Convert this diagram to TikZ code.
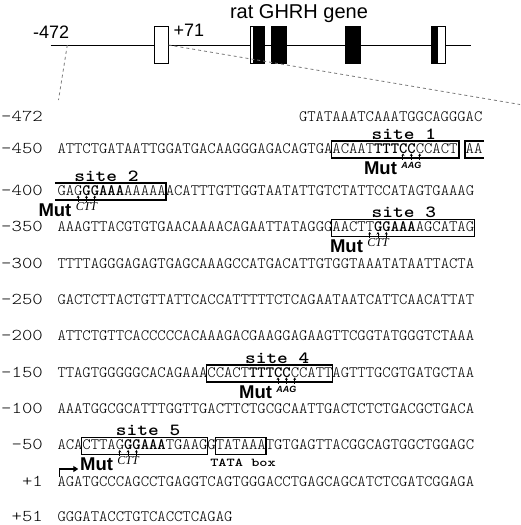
\documentclass[tikz,border=0pt]{standalone}
\usepackage{fontspec}
\newfontfamily\arialfont{Liberation Sans}
\newfontfamily\timesfont{Liberation Serif}
\usetikzlibrary{arrows.meta, positioning, calc}
\definecolor{cutline}{HTML}{7A7A7A}
\newcommand\cw{8.33}
\newcommand\widen[2][1.2]{\scalebox{#1}[1]{#2}}
\tikzset{
  seqtxt/.style  = {font=\fontsize{15.87}{16}\selectfont\ttfamily\fontseries{l}\selectfont,
                    anchor=base west, inner sep=0pt},
  seqnum/.style  = {font=\fontsize{16.5}{17}\selectfont\ttfamily\fontseries{l}\selectfont,
                    inner sep=0pt},
  sitelbl/.style = {font=\fontsize{17}{17}\selectfont\ttfamily\bfseries,
                    anchor=base, inner sep=0pt},
  tatalbl/.style = {font=\fontsize{12}{12}\selectfont\ttfamily\bfseries,
                    anchor=base, inner sep=0pt},
  mutlbl/.style  = {font=\arialfont\bfseries\fontsize{18.5}{18.5}\selectfont,
                    anchor=base east, inner sep=0pt},
  mutaag/.style  = {font=\arialfont\bfseries\itshape\fontsize{9}{9}\selectfont,
                    anchor=base, inner sep=0pt},
  mutctt/.style  = {font=\timesfont\itshape\fontsize{12}{12}\selectfont,
                    anchor=base, inner sep=0pt},
  genelbl/.style = {font=\arialfont\fontsize{18}{18}\selectfont,
                    anchor=base west, inner sep=0pt},
  sitebox/.style = {draw=black, line width=1.3pt},
  mutarr/.style  = {line width=1pt, -{Stealth[length=2.5pt, width=3pt]}},
  tssarr/.style  = {line width=1.6pt, -{Triangle[length=5pt, width=6pt]}},
  exon/.style    = {draw=black, line width=1pt, minimum width=14pt,
                    minimum height=37.6pt, inner sep=0pt},
  cut/.style     = {draw=cutline, dashed, line width=0.8pt},
}

\begin{document}
\begin{tikzpicture}[x=1pt, y=-1pt]
  \useasboundingbox (0,0) rectangle (520,525);

  % gene map
  \coordinate (g0) at (50.7,45);
  \coordinate (g1) at (471,45);
  \draw[line width=1pt] (g0) -- (g1);
  \node[exon, fill=white] (ex1) at (161,45) {};
  \node[exon, fill=black] (ex2) at (257.2,45) {};
  \fill[white] ($(ex2.north west)+(1.2,1.5)$) rectangle ($(ex2.south west)+(3,-1.5)$);
  \node[exon, fill=black, minimum width=15pt] (ex3) at (279.2,45) {};
  \node[exon, fill=black, minimum width=15pt] (ex4) at (352.5,45) {};
  \node[exon, fill=white] (ex5) at (438,45) {};
  \fill (ex5.north west) rectangle (ex5.south);
  \node[genelbl] (l472) at (33,38) {-472};
  \node[genelbl, right=5pt of ex1.north east, anchor=base west, yshift=-11pt] (l71) {+71};
  \node[font=\arialfont\fontsize{20}{20}\selectfont, anchor=base, inner sep=0pt]
       (gname) at (299,18) {rat GHRH gene};
  \coordinate (p472) at (67.3,45);
  \coordinate (cutL) at (58.5,100);
  \coordinate (cutR) at (520,104.5);
  \draw[cut] (p472) -- (cutL);
  \draw[cut] (ex1.east) -- (cutR);

  % sequence rows
  \node[seqtxt] (r472) at ({57.3+29*\cw},121.5) {GTATAAATCAAATGGCAGGGAC};
  \node[seqtxt] (r450) at (57.3,153)
       {ATTCTGATAATTGGATGACAAGGGAGACAGTGAACAAT\textbf{TTTCC}CCACT AA};
  \node[seqtxt] (r400) at (57.3,195)
       {GAG\textbf{GGAAA}AAAAAACATTTGTTGGTAATATTGTCTATTCCATAGTGAAAG};
  \node[seqtxt] (r350) at (57.3,231.5)
       {AAAGTTACGTGTGAACAAAACAGAATTATAGGGAACTT\textbf{GGAAA}AGCATAG};
  \node[seqtxt] (r300) at (57.3,268) {TTTTAGGGAGAGTGAGCAAAGCCATGACATTGTGGTAAATATAATTACTA};
  \node[seqtxt] (r250) at (57.3,304.5) {GACTCTTACTGTTATTCACCATTTTTCTCAGAATAATCATTCAACATTAT};
  \node[seqtxt] (r200) at (57.3,340.5) {ATTCTGTTCACCCCCACAAAGACGAAGGAGAAGTTCGGTATGGGTCTAAA};
  \node[seqtxt] (r150) at (57.3,377)
       {TTAGTGGGGGCACAGAAACCACT\textbf{TTTCC}CCATTAGTTTGCGTGATGCTAA};
  \node[seqtxt] (r100) at (57.3,413) {AAATGGCGCATTTGGTTGACTTCTGCGCAATTGACTCTCTGACGCTGACA};
  \node[seqtxt] (r50) at (57.3,449.5)
       {ACACTTAG\textbf{GGAAA}TGAAGGTATAAATGTGAGTTACGGCAGTGGCTGGAGC};
  \node[seqtxt] (rp1) at (57.3,486) {AGATGCCCAGCCTGAGGTCAGTGGGACCTGAGCAGCATCTCGATCGGAGA};
  \node[seqtxt] (rp51) at (57.3,521.5) {GGGATACCTGTCACCTCAGAG};

  % positions
  \node[seqnum, anchor=base east] (n472) at ($(r450.base west)+(-14.3,-31.5)$) {\widen{-472}};
  \node[seqnum, left=14.3pt of r450.base west, anchor=base east] (n450) {\widen{-450}};
  \node[seqnum, left=14.3pt of r400.base west, anchor=base east] (n400) {\widen{-400}};
  \node[seqnum, left=14.3pt of r350.base west, anchor=base east] (n350) {\widen{-350}};
  \node[seqnum, left=14.3pt of r300.base west, anchor=base east] (n300) {\widen{-300}};
  \node[seqnum, left=14.3pt of r250.base west, anchor=base east] (n250) {\widen{-250}};
  \node[seqnum, left=14.3pt of r200.base west, anchor=base east] (n200) {\widen{-200}};
  \node[seqnum, left=14.3pt of r150.base west, anchor=base east] (n150) {\widen{-150}};
  \node[seqnum, left=14.3pt of r100.base west, anchor=base east] (n100) {\widen{-100}};
  \node[seqnum, left=14.3pt of r50.base west, anchor=base east] (n50) {\widen{-50}};
  \node[seqnum, left=14.3pt of rp1.base west, anchor=base east] (np1) {\widen{+1}};
  \node[seqnum, left=14.3pt of rp51.base west, anchor=base east] (np51) {\widen{+51}};

  % site 1
  \draw[sitebox] ($(r450.base west)+({33*\cw-0.6},-12)$) rectangle ($(r450.base west)+({48*\cw+2},5)$);
  \node[sitelbl] (site1) at ($(r450.base west)+({41.6*\cw},-14)$) {\widen{site 1}};
  \foreach \i in {41,42,43}
    \draw[mutarr] ($(r450.base west)+({(\i+0.5)*\cw},6.5)$) -- ++(0,-6);
  \node[mutaag] (aag1) at ($(r450.base west)+({42.5*\cw},15)$) {AAG};
  \node[mutlbl] (mut1) at ($(aag1.base west)+(-4,6)$) {Mut};

  % site 2
  \draw[sitebox] ($(r450.base west)+({51*\cw+2},-12)$) -- ($(r450.base west)+({49*\cw-0.6},-12)$)
       -- ($(r450.base west)+({49*\cw-0.6},5)$) -- ($(r450.base west)+({51*\cw+2},5)$);
  \draw[sitebox] ($(r400.base west)+(-2.5,-12)$) -- ($(r400.base west)+({13*\cw+0.5},-12)$)
       -- ($(r400.base west)+({13*\cw+0.5},5)$) -- ($(r400.base west)+(-2.5,5)$);
  \node[sitelbl] (site2) at ($(r400.base west)+({5.9*\cw},-14)$) {\widen{site 2}};
  \foreach \i in {2,3,4}
    \draw[mutarr] ($(r400.base west)+({(\i+0.5)*\cw},6.5)$) -- ++(0,-6);
  \node[mutctt] (ctt2) at ($(r400.base west)+({3.5*\cw},15)$) {CTT};
  \node[mutlbl] (mut2) at ($(ctt2.base west)+(-4,6)$) {Mut};

  % site 3
  \draw[sitebox] ($(r350.base west)+({33*\cw-0.6},-12)$) rectangle ($(r350.base west)+({50*\cw+0.5},5)$);
  \node[sitelbl] (site3) at ($(r350.base west)+({41.6*\cw},-14)$) {\widen{site 3}};
  \foreach \i in {37,38,39}
    \draw[mutarr] ($(r350.base west)+({(\i+0.5)*\cw},6.5)$) -- ++(0,-6);
  \node[mutctt] (ctt3) at ($(r350.base west)+({38.5*\cw},15)$) {CTT};
  \node[mutlbl] (mut3) at ($(ctt3.base west)+(-4,6)$) {Mut};

  % site 4
  \draw[sitebox] ($(r150.base west)+({18*\cw-0.6},-12)$) rectangle ($(r150.base west)+({33*\cw+0.6},5)$);
  \node[sitelbl] (site4) at ($(r150.base west)+({26.4*\cw},-14)$) {\widen{site 4}};
  \foreach \i in {26,27,28}
    \draw[mutarr] ($(r150.base west)+({(\i+0.5)*\cw},6.5)$) -- ++(0,-6);
  \node[mutaag] (aag4) at ($(r150.base west)+({27.5*\cw},15)$) {AAG};
  \node[mutlbl] (mut4) at ($(aag4.base west)+(-4,6)$) {Mut};

  % site 5 and TATA box
  \draw[sitebox] ($(r50.base west)+({3*\cw-0.6},-12)$) rectangle ($(r50.base west)+({18*\cw+0.3},5)$);
  \node[sitelbl] (site5) at ($(r50.base west)+({10.9*\cw},-14)$) {\widen{site 5}};
  \foreach \i in {7,8,9}
    \draw[mutarr] ($(r50.base west)+({(\i+0.5)*\cw},6.5)$) -- ++(0,-6);
  \node[mutctt] (ctt5) at ($(r50.base west)+({8.5*\cw},15)$) {CTT};
  \node[mutlbl] (mut5) at ($(ctt5.base west)+(-4,6)$) {Mut};
  \draw[sitebox] ($(r50.base west)+({19*\cw-0.4},-12)$) rectangle ($(r50.base west)+({25*\cw+0.3},5)$);
  \node[tatalbl] (tata) at ($(r50.base west)+({22.3*\cw},17)$) {\widen[1.3]{TATA box}};

  % start of transcription
  \coordinate (tss0) at ($(rp1.base west)+(2,-9)$);
  \coordinate (tss1) at ($(rp1.base west)+(21,-17)$);
  \draw[tssarr] (tss0) |- (tss1);
\end{tikzpicture}
\end{document}
